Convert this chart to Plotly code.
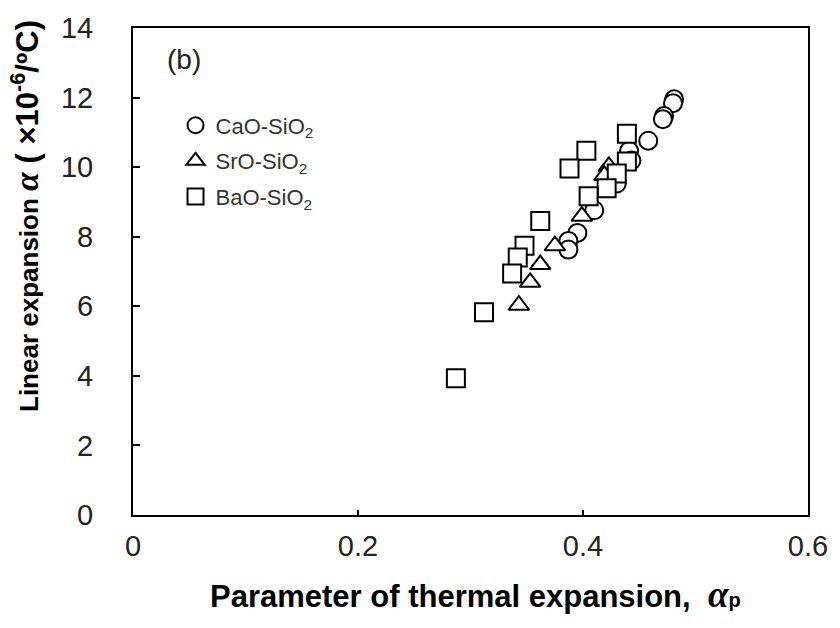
import plotly.graph_objects as go

# CaO-SiO2 (circles)
cao_x = [0.481, 0.480, 0.472, 0.471, 0.458, 0.441, 0.443, 0.430, 0.410, 0.395, 0.387, 0.387]
cao_y = [11.95, 11.84, 11.47, 11.38, 10.76, 10.47, 10.19, 9.53, 8.76, 8.11, 7.88, 7.63]

# SrO-SiO2 (triangles)
sro_x = [0.423, 0.419, 0.399, 0.375, 0.362, 0.353, 0.343]
sro_y = [10.02, 9.76, 8.59, 7.74, 7.20, 6.69, 6.03]

# BaO-SiO2 (squares)
bao_x = [0.439, 0.403, 0.388, 0.439, 0.430, 0.421, 0.405, 0.362, 0.348, 0.342, 0.337, 0.312, 0.287]
bao_y = [10.96, 10.47, 9.96, 10.16, 9.82, 9.39, 9.16, 8.45, 7.74, 7.40, 6.94, 5.83, 3.93]

x_ticks = [0, 0.2, 0.4, 0.6]
x_labels = ["0", "0.2", "0.4", "0.6"]
y_ticks = [0, 2, 4, 6, 8, 10, 12, 14]

marker_line = dict(color="black", width=2)

fig = go.Figure()
fig.add_trace(go.Scatter(x=cao_x, y=cao_y, mode="markers", name="CaO-SiO<sub>2</sub>", legendgroup="ca",
                         marker=dict(symbol="circle", size=18, color="white", line=marker_line)))
fig.add_trace(go.Scatter(x=sro_x, y=sro_y, mode="markers", name="SrO-SiO<sub>2</sub>", legendgroup="sr",
                         marker=dict(symbol="triangle-up", size=18, color="white", line=marker_line)))
fig.add_trace(go.Scatter(x=bao_x, y=bao_y, mode="markers", name="BaO-SiO<sub>2</sub>", legendgroup="ba",
                         marker=dict(symbol="square", size=18, color="white", line=marker_line)))

font_main = "Liberation Sans, Arial, sans-serif"
serif = "Liberation Serif, Times New Roman, serif"

y_title = ('<b><span style="font-size:26px">Linear expansion </span>'
           '<span style="font-family:' + serif + ';font-size:34px"><i>α</i></span>'
           '<span style="font-size:31px"> ( ×10<sup>-6</sup>/ºC)</span></b>')
x_title = ('<b>Parameter of thermal expansion,  '
           '<span style="font-family:' + serif + ';font-size:37px"><i>α</i></span>'
           '<span style="font-size:20px">p</span></b>')

fig.update_layout(
    width=840, height=628,
    margin=dict(l=133, r=26, t=23, b=113),
    paper_bgcolor="white", plot_bgcolor="white",
    font=dict(family=font_main, color="black"),
    showlegend=True,
    legend=dict(x=0.063, y=0.843, xanchor="left", yanchor="top",
                font=dict(size=22, family=font_main, color="#333"),
                bgcolor="rgba(0,0,0,0)", itemsizing="trace", tracegroupgap=4),
    xaxis=dict(range=[0, 0.6], tickvals=x_ticks, ticktext=x_labels,
               showgrid=False, zeroline=False, showline=True, linecolor="black", linewidth=2,
               mirror=True, ticks="inside", ticklen=5, tickwidth=2, tickcolor="black",
               ticklabelstandoff=4,
               tickfont=dict(size=29, family=font_main, color="#222")),
    yaxis=dict(range=[0, 14], tickvals=y_ticks,
               showgrid=False, zeroline=False, showline=True, linecolor="black", linewidth=2,
               mirror=True, ticks="inside", ticklen=7, tickwidth=2, tickcolor="black",
               ticklabelstandoff=32,
               tickfont=dict(size=29, family=font_main, color="#222")),
    annotations=[
        dict(text="(b)", x=0.075, y=0.935, xref="paper", yref="paper",
             xanchor="center", yanchor="middle", showarrow=False,
             font=dict(size=28, family=font_main, color="#222")),
        dict(text=y_title, x=-0.16, y=0.614, xref="paper", yref="paper",
             xanchor="center", yanchor="middle", textangle=-90, showarrow=False,
             font=dict(family=font_main, color="black")),
        dict(text=x_title, x=0.507, y=-0.163, xref="paper", yref="paper",
             xanchor="center", yanchor="middle", showarrow=False,
             font=dict(size=31, family=font_main, color="black")),
    ],
)

fig.write_html("out.html")
